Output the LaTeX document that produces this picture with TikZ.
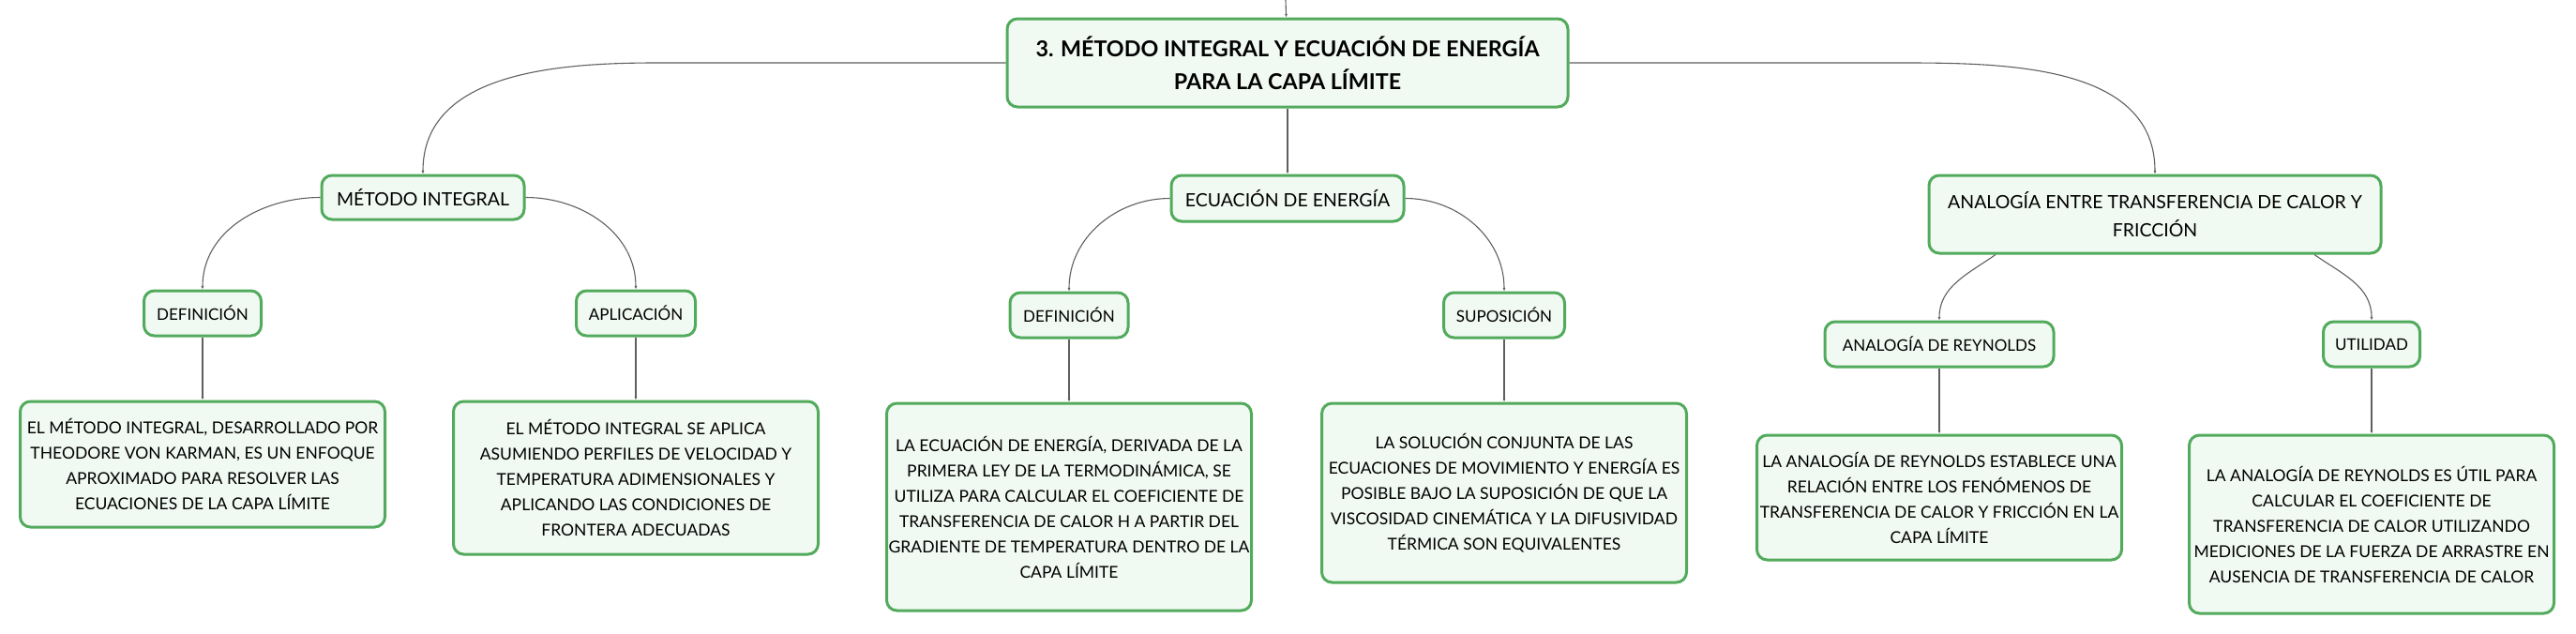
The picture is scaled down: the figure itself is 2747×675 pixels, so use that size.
\documentclass[tikz,border=0pt]{standalone}
\usepackage{fontspec}
\setmainfont{Lato}
\usetikzlibrary{positioning,arrows.meta}
\definecolor{mapgreen}{RGB}{82,171,92}
\definecolor{mapfill}{RGB}{241,249,243}
\definecolor{mapline}{RGB}{95,95,95}

\begin{document}
\begin{tikzpicture}[node distance=70pt,
    box/.style={draw=mapgreen, line width=3pt, fill=mapfill, rounded corners=11pt, align=center, inner sep=0pt},
    main/.style={box, font=\fontsize{23.3pt}{35pt}\selectfont\bfseries},
    topic/.style={box, font=\fontsize{19.5pt}{30pt}\selectfont},
    sub/.style={box, minimum height=48pt, font=\fontsize{17pt}{27pt}\selectfont},
    leaf/.style={box, minimum width=389pt, font=\fontsize{17.5pt}{27pt}\selectfont},
    conn/.style={draw=mapline, line width=1.1pt, -{Latex[length=3.5pt,width=3pt]}}]
    \useasboundingbox (0,0) rectangle (2747pt,-675pt);

    % main topic
    \node[main, minimum width=598pt, minimum height=94pt] (root) at (1373pt,-67pt) {3. MÉTODO INTEGRAL Y ECUACIÓN DE ENERGÍA\\PARA LA CAPA LÍMITE};
    \coordinate (up) at (1371pt,0pt);

    % first level
    \node[topic, minimum width=216pt, minimum height=47pt, below=70pt of root, xshift=-922pt] (mi) {MÉTODO INTEGRAL};
    \node[topic, minimum width=248pt, minimum height=49pt, below=70pt of root] (ec) {ECUACIÓN DE ENERGÍA};
    \node[topic, minimum width=482pt, minimum height=83pt, below=70pt of root, xshift=925pt] (an) {ANALOGÍA ENTRE TRANSFERENCIA DE CALOR Y\\FRICCIÓN};

    % second level
    \node[sub, minimum width=125pt, below=73pt of mi, xshift=-235pt] (def1) {DEFINICIÓN};
    \node[sub, minimum width=127pt, below=73pt of mi, xshift=227pt] (apl) {APLICACIÓN};
    \node[sub, minimum width=126pt, below=73pt of ec, xshift=-233pt] (def2) {DEFINICIÓN};
    \node[sub, minimum width=129pt, below=73pt of ec, xshift=231pt] (sup) {SUPOSICIÓN};
    \node[sub, minimum width=244pt, below=70pt of an, xshift=-230pt] (rey) {ANALOGÍA DE REYNOLDS};
    \node[sub, minimum width=103pt, below=70pt of an, xshift=231pt] (uti) {UTILIDAD};

    % leaves
    \node[leaf, minimum height=134pt, below=67pt of def1] (txt1) {EL MÉTODO INTEGRAL, DESARROLLADO POR\\THEODORE VON KARMAN, ES UN ENFOQUE\\APROXIMADO PARA RESOLVER LAS\\ECUACIONES DE LA CAPA LÍMITE};
    \node[leaf, minimum height=163pt, below=67pt of apl] (txt2) {EL MÉTODO INTEGRAL SE APLICA\\ASUMIENDO PERFILES DE VELOCIDAD Y\\TEMPERATURA ADIMENSIONALES Y\\APLICANDO LAS CONDICIONES DE\\FRONTERA ADECUADAS};
    \node[leaf, minimum height=221pt, below=67pt of def2] (txt3) {LA ECUACIÓN DE ENERGÍA, DERIVADA DE LA\\PRIMERA LEY DE LA TERMODINÁMICA, SE\\UTILIZA PARA CALCULAR EL COEFICIENTE DE\\TRANSFERENCIA DE CALOR H A PARTIR DEL\\GRADIENTE DE TEMPERATURA DENTRO DE LA\\CAPA LÍMITE};
    \node[leaf, minimum height=191pt, below=67pt of sup] (txt4) {LA SOLUCIÓN CONJUNTA DE LAS\\ECUACIONES DE MOVIMIENTO Y ENERGÍA ES\\POSIBLE BAJO LA SUPOSICIÓN DE QUE LA\\VISCOSIDAD CINEMÁTICA Y LA DIFUSIVIDAD\\TÉRMICA SON EQUIVALENTES};
    \node[leaf, minimum height=133pt, below=70pt of rey] (txt5) {LA ANALOGÍA DE REYNOLDS ESTABLECE UNA\\RELACIÓN ENTRE LOS FENÓMENOS DE\\TRANSFERENCIA DE CALOR Y FRICCIÓN EN LA\\CAPA LÍMITE};
    \node[leaf, minimum height=190pt, below=70pt of uti] (txt6) {LA ANALOGÍA DE REYNOLDS ES ÚTIL PARA\\CALCULAR EL COEFICIENTE DE\\TRANSFERENCIA DE CALOR UTILIZANDO\\MEDICIONES DE LA FUERZA DE ARRASTRE EN\\AUSENCIA DE TRANSFERENCIA DE CALOR};

    % connectors
    \draw[conn] (up) -- (root);
    \draw[conn] (root.west) -- ([xshift=249pt]mi.north |- root.west) to[out=180, in=90] (mi.north);
    \draw[conn] (root) -- (ec);
    \draw[conn] (root.east) -- ([xshift=-267pt]an.north |- root.east) to[out=0, in=90] (an.north);

    \draw[conn] (mi.west) to[out=180, in=90] (def1.north);
    \draw[conn] (mi.east) to[out=0, in=90] (apl.north);
    \draw[conn] (ec.west) to[out=180, in=90] (def2.north);
    \draw[conn] (ec.east) to[out=0, in=90] (sup.north);
    \draw[conn] ([xshift=-170pt]an.south) to[out=215, in=90] (rey.north);
    \draw[conn] ([xshift=170pt]an.south) to[out=-35, in=90] (uti.north);

    \draw[conn] (def1) -- (txt1);
    \draw[conn] (apl) -- (txt2);
    \draw[conn] (def2) -- (txt3);
    \draw[conn] (sup) -- (txt4);
    \draw[conn] (rey) -- (txt5);
    \draw[conn] (uti) -- (txt6);
\end{tikzpicture}
\end{document}
